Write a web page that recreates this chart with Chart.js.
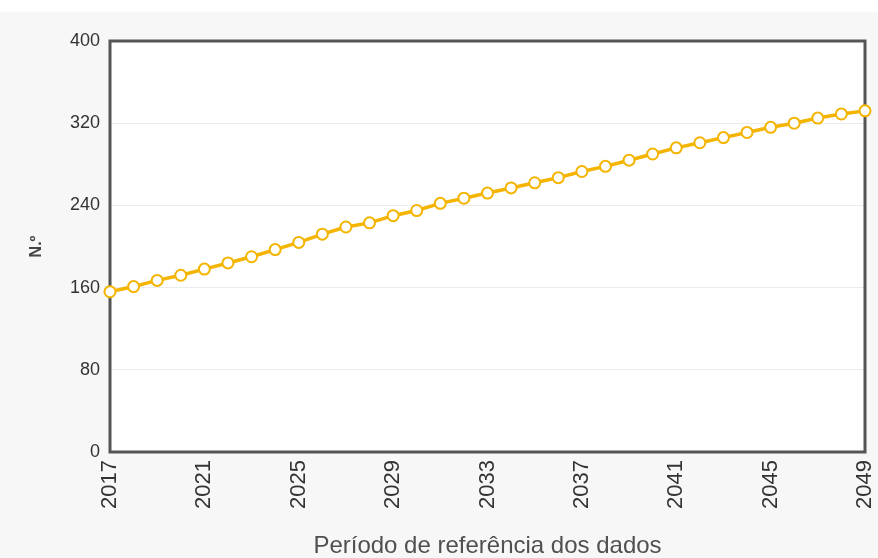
<!DOCTYPE html>
<html>
<head>
<meta charset="utf-8">
<script src="https://cdn.jsdelivr.net/npm/chart.js@4"></script>
<style>
    body { margin: 0; background: #f7f7f7; font-family: "Liberation Sans", Arial, sans-serif; }
    #topStrip { height: 12px; background: #ffffff; }
    #wrap { width: 878px; height: 546px; position: relative; }
</style>
</head>
<body>
<div id="topStrip"></div>
<div id="wrap"><canvas id="line-chart"></canvas></div>
<script>
// Years on the x axis
const years = [
    "2017", "2018", "2019", "2020", "2021", "2022", "2023", "2024", "2025", "2026", "2027",
    "2028", "2029", "2030", "2031", "2032", "2033", "2034", "2035", "2036", "2037", "2038",
    "2039", "2040", "2041", "2042", "2043", "2044", "2045", "2046", "2047", "2048", "2049"
];

// Values
const values = [
    156, 161, 167, 172, 178, 184, 190, 197, 204, 212, 219,
    223, 230, 235, 242, 247, 252, 257, 262, 267, 273, 278,
    284, 290, 296, 301, 306, 311, 316, 320, 325, 329, 332
];

const yTicks = [0, 80, 160, 240, 320, 400];
const xTitle = "Período de referência dos dados";
const yTitle = "N.º";

// Paint the plot area white and draw the dark frame round it
const plotFrame = {
    id: "plotFrame",
    beforeDraw(chart) {
        const { ctx, chartArea: a } = chart;
        ctx.save();
        ctx.fillStyle = "#ffffff";
        ctx.fillRect(a.left, a.top, a.right - a.left, a.bottom - a.top);
        ctx.restore();
    },
    beforeDatasetsDraw(chart) {
        const { ctx, chartArea: a } = chart;
        ctx.save();
        ctx.strokeStyle = "#555555";
        ctx.lineWidth = 3;
        ctx.strokeRect(a.left, a.top, a.right - a.left, a.bottom - a.top);
        ctx.restore();
    }
};

document.addEventListener("DOMContentLoaded", function () {
    const ctx = document.getElementById("line-chart").getContext("2d");

    new Chart(ctx, {
        type: "line",
        data: {
            labels: years,
            datasets: [{
                data: values,
                borderColor: "#f4b400",
                borderWidth: 3.5,
                pointBackgroundColor: "#ffffff",
                pointBorderColor: "#f4b400",
                pointBorderWidth: 2,
                pointRadius: 5.5,
                tension: 0,
                fill: false
            }]
        },
        options: {
            responsive: true,
            maintainAspectRatio: false,
            animation: false,
            layout: {
                padding: { top: 29, right: 13, bottom: 0, left: 0 }
            },
            plugins: {
                legend: { display: false },
                tooltip: { enabled: false }
            },
            scales: {
                x: {
                    grid: { display: false, drawTicks: false },
                    border: { display: false },
                    afterFit: function (scale) {
                        scale.height = 106;
                        // don't reserve room for the rotated end labels
                        scale.paddingLeft = 0;
                        scale.paddingRight = 0;
                    },
                    ticks: {
                        autoSkip: false,
                        maxRotation: 90,
                        minRotation: 90,
                        padding: 8,
                        color: "#333333",
                        font: { family: "Liberation Sans", size: 22 },
                        callback: function (val, i) {
                            return i % 4 === 0 ? years[i] : "";
                        }
                    },
                    title: {
                        display: true,
                        text: xTitle,
                        color: "#505050",
                        font: { family: "Liberation Sans", size: 24, lineHeight: 1 },
                        padding: { top: 0, bottom: 0 }
                    }
                },
                y: {
                    min: 0,
                    max: 400,
                    afterFit: function (scale) { scale.width = 110; },
                    afterBuildTicks: function (scale) {
                        scale.ticks = yTicks.map(v => ({ value: v }));
                    },
                    grid: {
                        color: "#ececec",
                        lineWidth: 1,
                        drawTicks: false
                    },
                    border: { display: false },
                    ticks: {
                        padding: 10,
                        color: "#333333",
                        font: { family: "Liberation Sans", size: 18 }
                    },
                    title: {
                        display: true,
                        text: yTitle,
                        color: "#444444",
                        font: { family: "Liberation Sans", size: 16, weight: "bold" },
                        padding: { top: 27, bottom: 0 }
                    }
                }
            }
        },
        plugins: [plotFrame]
    });
});
</script>
</body>
</html>
